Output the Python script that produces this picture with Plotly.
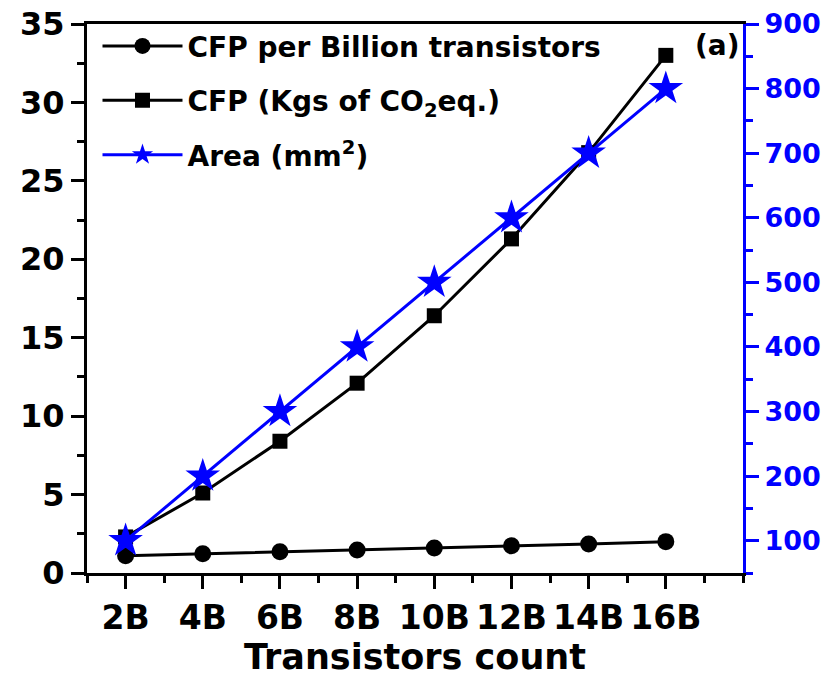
import plotly.graph_objects as go

x_vals = [2, 4, 6, 8, 10, 12, 14, 16]
x_labels = ["2B", "4B", "6B", "8B", "10B", "12B", "14B", "16B"]
cfp_per_billion = [1.1, 1.22, 1.35, 1.47, 1.6, 1.73, 1.85, 2.0]
cfp_kgs = [2.3, 5.1, 8.4, 12.1, 16.4, 21.3, 26.8, 33.0]
area_mm2 = [100, 200, 300, 400, 500, 600, 700, 800]

FONT = "DejaVu Sans"
BLUE = "#0000FF"

fig = go.Figure()
fig.add_trace(go.Scatter(
    x=x_vals, y=cfp_per_billion, name="CFP per Billion transistors",
    mode="lines+markers", legendgroup="a",
    line=dict(color="black", width=3),
    marker=dict(symbol="circle", size=17, color="black"),
))
fig.add_trace(go.Scatter(
    x=x_vals, y=cfp_kgs, name="CFP (Kgs of CO<sub>2</sub>eq.)",
    mode="lines+markers", legendgroup="b",
    line=dict(color="black", width=3),
    marker=dict(symbol="square", size=15, color="black"),
))
fig.add_trace(go.Scatter(
    x=x_vals, y=area_mm2, name="Area (mm<sup>2</sup>)", yaxis="y2",
    mode="lines+markers", legendgroup="c",
    line=dict(color=BLUE, width=3),
    marker=dict(symbol="star", size=26, color=BLUE),
))

fig.update_layout(
    width=823, height=683,
    margin=dict(l=87, r=80, t=24, b=110, autoexpand=False),
    paper_bgcolor="white", plot_bgcolor="white",
    font=dict(family=FONT, color="black", weight="bold"),
    showlegend=True,
    legend=dict(
        x=0.016, y=1.005, xanchor="left", yanchor="top",
        bgcolor="rgba(0,0,0,0)", borderwidth=0,
        font=dict(family=FONT, size=28, color="black", weight="bold"),
        itemwidth=80, tracegroupgap=15, traceorder="grouped",
    ),
    xaxis=dict(
        range=[1, 18], automargin=False,
        tickmode="array",
        tickvals=x_vals,
        ticktext=x_labels,
        ticks="outside", ticklen=13, tickwidth=3, tickcolor="black",
        showline=True, linewidth=3, linecolor="black", mirror=True,
        showgrid=False, zeroline=False,
        tickfont=dict(family=FONT, size=33, color="black", weight="bold"),
        minor=dict(dtick=1, tick0=1, ticks="outside", ticklen=7, tickwidth=3, tickcolor="black"),
        title=dict(text="Transistors count", standoff=8,
                   font=dict(family=FONT, size=35, color="black", weight="bold")),
    ),
    yaxis=dict(
        range=[0, 35], dtick=5, tick0=0, automargin=False,
        ticks="outside", ticklen=13, tickwidth=3, tickcolor="black",
        showline=True, linewidth=3, linecolor="black",
        showgrid=False, zeroline=False,
        tickfont=dict(family=FONT, size=32, color="black", weight="bold"),
        minor=dict(dtick=2.5, ticks="outside", ticklen=7, tickwidth=3, tickcolor="black"),
    ),
    yaxis2=dict(
        range=[50, 900], overlaying="y", side="right", automargin=False,
        tickmode="array", tickvals=[100, 200, 300, 400, 500, 600, 700, 800, 900],
        ticks="outside", ticklen=13, tickwidth=3, tickcolor=BLUE,
        showline=True, linewidth=3, linecolor=BLUE,
        showgrid=False, zeroline=False,
        tickfont=dict(family=FONT, size=27, color=BLUE, weight="bold"),
        minor=dict(dtick=50, tick0=50, ticks="outside", ticklen=7, tickwidth=3, tickcolor=BLUE),
    ),
    annotations=[dict(
        text="(a)", x=0.998, y=0.96, xref="paper", yref="paper",
        xanchor="right", yanchor="middle", showarrow=False,
        font=dict(family=FONT, size=28, color="black", weight="bold"),
    )],
)

fig.write_html("out.html")
